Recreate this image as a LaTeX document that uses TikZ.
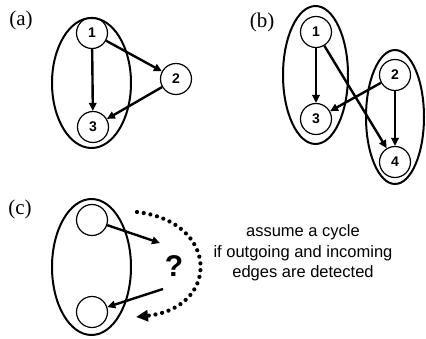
\documentclass[tikz,border=0pt]{standalone}
\usepackage{fontspec}
\setmainfont{Liberation Serif}
\setsansfont{Liberation Sans}
\usetikzlibrary{arrows.meta}
\begin{document}
\begin{tikzpicture}[x=1pt,y=-1pt,
  vnode/.style={circle,draw,line width=1.2pt,minimum size=31pt,inner sep=0pt,font=\sffamily\bfseries\fontsize{14}{14}\selectfont},
  grp/.style={draw,line width=2pt},
  edge/.style={line width=2.4pt,-{Triangle[length=8pt,width=7.5pt]}},
  lab/.style={font=\fontsize{21}{21}\selectfont},
  dotarc/.style={line width=4.2pt,line cap=round,dash pattern=on 0pt off 6.8pt,-{Triangle[length=12pt,width=11pt]}}]
\useasboundingbox (0,0) rectangle (426,339);
% (a)
\node[lab] (la) at (21,20) {(a)};
\draw[grp] (91.5,83) ellipse [x radius=39.5,y radius=65];
\node[vnode] (a1) at (92,33) {1};
\node[vnode] (a2) at (176,79) {2};
\node[vnode] (a3) at (93,127) {3};
\draw[edge] (a1) -- (a3);
\draw[edge] (a1) -- (a2);
\draw[edge] (a2) -- (a3);
% (b)
\node[lab] (lb) at (262,22) {(b)};
\draw[grp] (315.5,75) ellipse [x radius=32.5,y radius=69];
\draw[grp] (395,117) ellipse [x radius=29,y radius=67];
\node[vnode] (b1) at (316,32) {1};
\node[vnode] (b3) at (316,119) {3};
\node[vnode] (b2) at (395,75) {2};
\node[vnode] (b4) at (395,162) {4};
\draw[edge] (b1) -- (b3);
\draw[edge] (b1) -- (b4);
\draw[edge] (b2) -- (b3);
\draw[edge] (b2) -- (b4);
% (c)
\node[lab] (lc) at (20,209) {(c)};
\draw[grp] (91.5,267) ellipse [x radius=39.5,y radius=68];
\node[vnode] (c1) at (92,220) {};
\node[vnode] (c2) at (92,312) {};
\coordinate (co) at (160,243);
\coordinate (ci) at (163,289);
\draw[edge] (c1) -- (co);
\draw[edge] (ci) -- (c2);
\node[font=\sffamily\bfseries\fontsize{30}{30}\selectfont] (q) at (174,266) {?};
\coordinate (ds) at (137,212);
\coordinate (de) at (136,317);
\draw[dotarc] (ds) .. controls (220,222) and (220,308) .. (de);
\node[font=\sffamily\fontsize{16.5}{20.5}\selectfont,align=center] (txt) at (303,253)
  {assume a cycle\\if outgoing and incoming\\edges are detected};
\end{tikzpicture}
\end{document}
